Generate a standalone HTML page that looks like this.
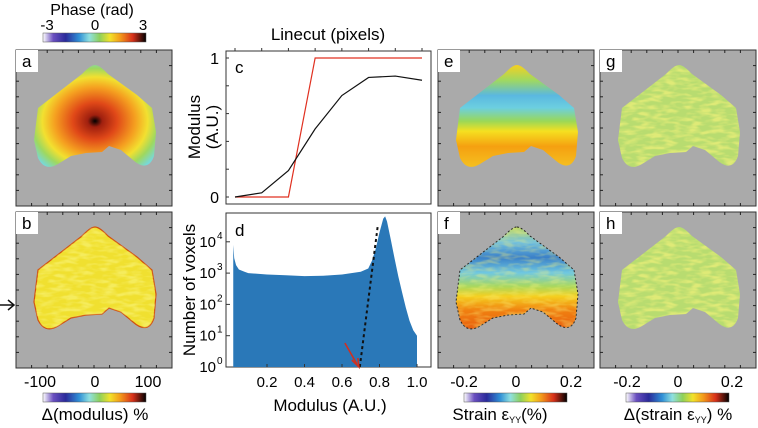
<!DOCTYPE html>
<html><head><meta charset="utf-8"><style>
html,body{margin:0;padding:0;background:#fff;}
svg{display:block;font-family:"Liberation Sans",sans-serif;}
</style></head><body>
<svg id="fig" width="758" height="428" viewBox="0 0 758 428">
<defs>
<linearGradient id="cmap" x1="0" x2="1" y1="0" y2="0">
<stop offset="0" stop-color="#ffffff"/><stop offset="0.1" stop-color="#6a4fc0"/><stop offset="0.22" stop-color="#2a2a9a"/>
<stop offset="0.35" stop-color="#2f8fd6"/><stop offset="0.45" stop-color="#8fe0e0"/><stop offset="0.55" stop-color="#8ed05a"/>
<stop offset="0.65" stop-color="#f2e22a"/><stop offset="0.75" stop-color="#f39a1a"/><stop offset="0.87" stop-color="#d8301a"/><stop offset="1" stop-color="#000"/>
</linearGradient>
<radialGradient id="phaseG" cx="0.5" cy="0.55" r="0.6">
<stop offset="0" stop-color="#000"/><stop offset="0.1" stop-color="#a0200f"/><stop offset="0.3" stop-color="#e04818"/>
<stop offset="0.55" stop-color="#f5a020"/><stop offset="0.72" stop-color="#f2e030"/><stop offset="0.86" stop-color="#9ed860"/><stop offset="1" stop-color="#78d8d8"/>
</radialGradient>
<linearGradient id="strainE" x1="0" x2="0" y1="0" y2="1">
<stop offset="0" stop-color="#f5d020"/><stop offset="0.15" stop-color="#a0d860"/><stop offset="0.3" stop-color="#5ab8e0"/>
<stop offset="0.42" stop-color="#6ccfe0"/><stop offset="0.55" stop-color="#9ad858"/><stop offset="0.65" stop-color="#f5e020"/><stop offset="0.8" stop-color="#f5a010"/><stop offset="1" stop-color="#f5c020"/>
</linearGradient>
<linearGradient id="strainF" x1="0" x2="0" y1="0" y2="1">
<stop offset="0" stop-color="#c0d860"/><stop offset="0.15" stop-color="#70c0e0"/><stop offset="0.3" stop-color="#3a80c8"/>
<stop offset="0.45" stop-color="#70c8e0"/><stop offset="0.58" stop-color="#a8d860"/><stop offset="0.68" stop-color="#f5d020"/><stop offset="0.82" stop-color="#f08010"/><stop offset="1" stop-color="#e86010"/>
</linearGradient>
<filter id="noise" x="0" y="0" width="1" height="1"><feTurbulence type="fractalNoise" baseFrequency="0.08 0.25" numOctaves="2" seed="3"/>
<feColorMatrix values="0 0 0 0 0.95  0 0 0 0 0.9  0 0 0 0 0.2  0 0 0 3 -1.2"/><feComposite in2="SourceGraphic" operator="in"/></filter>
</defs>
<g id="maps"></g>
<g id="chartC"></g>
<g id="chartD"></g>
<g id="text"></g>
</svg>
<script>
const NS="http://www.w3.org/2000/svg";
function mk(tag,attrs,parent){const e=document.createElementNS(NS,tag);for(const k in attrs)e.setAttribute(k,attrs[k]);(parent||document.getElementById('fig')).appendChild(e);return e;}
// ---- chart c data ----
const linecutX=[0,1,2,3,4,5,6,7];
const modulusMeasured=[0,0.03,0.19,0.49,0.73,0.86,0.87,0.84];
const modulusModel=[0,0,0,1,1,1,1,1];
// ---- chart d data ----
const histBins=[0.02,0.025,0.035,0.05,0.08,0.1,0.2,0.3,0.4,0.5,0.6,0.7,0.74,0.76,0.78,0.8,0.82,0.83,0.84,0.86,0.88,0.9,0.92,0.94,0.96,0.98,1.0];
const histCounts=[8000,3000,1800,1300,1100,1000,900,850,800,820,900,1100,1400,2500,6000,20000,55000,65000,45000,12000,3000,800,250,80,30,15,10];
const fitLineX=[0.695,0.79];
const fitLineY=[1,30000];
const yTickExp=[0,1,2,3,4];
const xTicksD=[0.2,0.4,0.6,0.8,1.0];

const panels=[
 {n:'a',x:16,y:50,fill:'url(#phaseG)'},
 {n:'b',x:16,y:212,fill:'#f0e030'},
 {n:'e',x:438,y:50,fill:'url(#strainE)'},
 {n:'f',x:438,y:212,fill:'url(#strainF)'},
 {n:'g',x:600,y:50,fill:'#b8dc70'},
 {n:'h',x:600,y:212,fill:'#b8dc70'}];
const shape="M79,15 C83,15 88,20 92,24 L121,45 L136,58 L140,82 L138,106 C134,118 126,118 117,110 L105,100 L93,96 L86,102 L70,103 L55,106 L42,114 C32,120 26,116 22,108 L18,90 L22,58 L66,24 C70,20 75,15 79,15 Z";
const maps=document.getElementById('maps');
panels.forEach(p=>{
 const g=mk('g',{transform:`translate(${p.x},${p.y})`},maps);
 
 
 mk('rect',{x:0,y:0,width:156,height:156,fill:'#aaaaaa',stroke:'#333','stroke-width':1},g);
 const s=mk('path',{d:shape,fill:p.fill},g);
 
 
 if(p.n==='b'){mk('path',{d:shape,fill:'none',stroke:'#d05010','stroke-width':1.2},g);}
 if(p.n==='f'){mk('path',{d:shape,fill:'none',stroke:'#222','stroke-width':1,'stroke-dasharray':'2 2'},g);}
 if(p.n!=='a'&&p.n!=='e'){mk('path',{d:shape,fill:'#fff',filter:'url(#noise)',opacity:p.n==='f'?0.35:0.6},g);}
 for(let i=1;i<10;i++){const t=i*15.6;
  mk('line',{x1:t,y1:0,x2:t,y2:3,stroke:'#222'},g);mk('line',{x1:t,y1:156,x2:t,y2:153,stroke:'#222'},g);
  mk('line',{x1:0,y1:t,x2:3,y2:t,stroke:'#222'},g);mk('line',{x1:156,y1:t,x2:153,y2:t,stroke:'#222'},g);}
 mk('rect',{x:0,y:0,width:22,height:22,fill:'#fff'},g);
 const l=mk('text',{x:6,y:17,'font-size':17},g);l.textContent=p.n;
 
 
});
mk('path',{d:'M0,305 L14,305 M8,300 L14,305 L8,310',stroke:'#111','stroke-width':1.5,fill:'none'});

// chart c
const C={l:226,r:431,t:51,b:204};
const cx=v=>235+v*(422-235)/7, cy=v=>197-v*(197-58);
const gc=document.getElementById('chartC');
mk('rect',{x:C.l,y:C.t,width:C.r-C.l,height:C.b-C.t,fill:'#fff',stroke:'#333'},gc);
linecutX.forEach(v=>mk('line',{x1:cx(v),y1:C.t,x2:cx(v),y2:C.t-3,stroke:'#333'},gc));
[0,0.2,0.4,0.6,0.8,1].forEach(v=>mk('line',{x1:C.l,y1:cy(v),x2:C.l+3,y2:cy(v),stroke:'#333'},gc));
const lm=mk('polyline',{points:linecutX.map((x,i)=>cx(x)+','+cy(modulusModel[i])).join(' '),fill:'none',stroke:'#e03020','stroke-width':1.2},gc);


const lb=mk('polyline',{points:linecutX.map((x,i)=>cx(x)+','+cy(modulusMeasured[i])).join(' '),fill:'none',stroke:'#111','stroke-width':1.2},gc);


[[1,'1'],[0,'0']].forEach(([v,s])=>{const t=mk('text',{x:219,y:cy(v)+6,'font-size':16,'text-anchor':'end'},gc);t.textContent=s;});
let t=mk('text',{x:235,y:73,'font-size':17},gc);t.textContent='c';

// chart d
const D={l:226,r:431,t:213,b:367};
const dx=v=>229.5+v*187.5, dy=v=>367-Math.log10(v)*31.3;
const gd=document.getElementById('chartD');
mk('rect',{x:D.l,y:D.t,width:D.r-D.l,height:D.b-D.t,fill:'#fff',stroke:'#333'},gd);
let pts=`M${dx(histBins[0])},${D.b} `+histBins.map((b,i)=>`L${dx(b)},${Math.max(D.t+1,dy(histCounts[i]))}`).join(' ')+` L${dx(histBins[histBins.length-1])},${D.b} Z`;
const hp=mk('path',{d:pts,fill:'#2a78b8'},gd);


const fl=mk('line',{x1:dx(fitLineX[0]),y1:dy(fitLineY[0]),x2:dx(fitLineX[1]),y2:dy(fitLineY[1]),stroke:'#111','stroke-width':2,'stroke-dasharray':'3 3'},gd);


const ax=dx(0.69),ay=dy(1);
const arr=mk('path',{d:`M${ax-14},${ay-24} L${ax-2},${ay-3} M${ax-7},${ay-7} L${ax},${ay} L${ax-1},${ay-9}`,stroke:'#d03020','stroke-width':1.6,fill:'none'},gd);


yTickExp.forEach(e=>{const y=dy(Math.pow(10,e));
 mk('line',{x1:D.l,y1:y,x2:D.l+4,y2:y,stroke:'#333'},gd);
 const tx=mk('text',{x:216,y:y+5,'font-size':15,'text-anchor':'end'},gd);tx.textContent='10';
 const sp=mk('text',{x:217,y:y-3,'font-size':10},gd);sp.textContent=String(e);});
xTicksD.forEach(v=>{const x=dx(v);mk('line',{x1:x,y1:D.b,x2:x,y2:D.b-3,stroke:'#333'},gd);
 const tx=mk('text',{x:x,y:387,'font-size':15,'text-anchor':'middle'},gd);tx.textContent=v.toFixed(1);});
t=mk('text',{x:235,y:236,'font-size':17},gd);t.textContent='d';

const tg=document.getElementById('text');
function txt(x,y,s,size,anchor,name,rot){const e=mk('text',{x:x,y:y,'font-size':size,'text-anchor':anchor||'middle'},tg);if(rot)e.setAttribute('transform',`rotate(-90 ${x} ${y})`);e.textContent=s;return e;}
[[43,33,'phase-colorbar'],[43,393,'modulus-colorbar'],[464,393,'strain-colorbar'],[626,393,'dstrain-colorbar']].forEach(([x,y,n])=>{
 const r=mk('rect',{x:x,y:y,width:103,height:9,fill:'url(#cmap)',stroke:'#555','stroke-width':0.5},tg);
 });
txt(92,15,'Phase (rad)',16,'middle','phase-title');
txt(47,30,'-3',15,'middle','tick');txt(95,30,'0',15,'middle','tick');txt(143,30,'3',15,'middle','tick');
txt(328,40,'Linecut (pixels)',17,'middle','c-top-title');
txt(200,127,'Modulus',17,'middle','c-y-title',true);txt(218,127,'(A.U.)',17,'middle','c-y-title2',true);
txt(195,290,'Number of voxels',17,'middle','d-y-title',true);
txt(330,411,'Modulus (A.U.)',17,'middle','d-x-title');
[[-100,40],[0,95],[100,148]].forEach(([v,x])=>txt(x,387,String(v),16,'middle','b-x-tick'));
txt(95,420,'Δ(modulus) %',17,'middle','modulus-cbar-title');
[[464,'-0.2'],[516,'0'],[571,'0.2'],[627,'-0.2'],[678,'0'],[732,'0.2']].forEach(([x,s])=>txt(x,387,s,16,'middle','strain-x-tick'));
const s1=txt(500,420,'Strain ε',17,'middle','strain-cbar-title');
const sub1=mk('tspan',{'font-size':9,dy:3},s1);sub1.textContent='YY';const r1=mk('tspan',{dy:-3},s1);r1.textContent='(%)';
const s2=txt(678,420,'Δ(strain ε',17,'middle','dstrain-cbar-title');
const sub2=mk('tspan',{'font-size':9,dy:3},s2);sub2.textContent='YY';const r2=mk('tspan',{dy:-3},s2);r2.textContent=') %';
</script>
</body></html>
